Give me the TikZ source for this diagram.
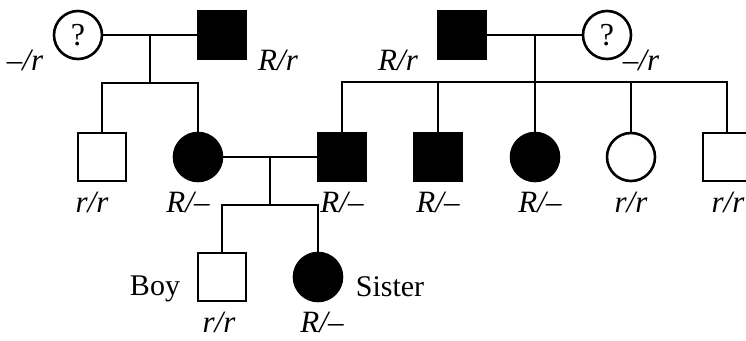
\documentclass[tikz,border=0pt]{standalone}
\usepackage{fontspec}
\setmainfont{Liberation Serif}
\begin{document}
\begin{tikzpicture}[x=1pt,y=-1pt,
  ln/.style={line width=2.6pt},
  fem/.style={circle,draw,ln,minimum size=48pt,inner sep=0pt,font=\fontsize{32}{38}\selectfont},
  mal/.style={rectangle,draw,ln,minimum size=48pt,inner sep=0pt},
  aff/.style={fill=black},
  lab/.style={font=\fontsize{31}{37}\selectfont\itshape,anchor=base,inner sep=0pt},
  txt/.style={font=\fontsize{30}{36}\selectfont,anchor=base,inner sep=0pt}]
\useasboundingbox (0,0) rectangle (746,340);
% generation I
\node[fem] (q1) at (78,35) {?};
\node[mal,aff] (p1) at (222,35) {};
\node[mal,aff] (p2) at (462,35) {};
\node[fem] (q2) at (607,35) {?};
\coordinate (m1) at (150,35);
\coordinate (j1) at (150,83);
\coordinate (m2) at (535,35);
\coordinate (j2) at (535,82);
% generation II
\node[mal] (c1) at (102,157) {};
\node[fem,aff] (c2) at (198,157) {};
\node[mal,aff] (s1) at (342,157) {};
\node[mal,aff] (s2) at (438,157) {};
\node[fem,aff] (s3) at (535,157) {};
\node[fem] (s4) at (631,157) {};
\node[mal] (s5) at (727,157) {};
\coordinate (m3) at (270,157);
\coordinate (j3) at (270,205);
% generation III
\node[mal] (boy) at (222,277) {};
\node[fem,aff] (sis) at (318,277) {};
% connectors
\draw[ln] (q1) -- (p1);
\draw[ln] (m1) -- (j1);
\draw[ln] (c1.north) |- (j1) -| (c2.north);
\draw[ln] (p2) -- (q2);
\draw[ln] (m2) -- (s3.north);
\draw[ln] (s1.north) |- (j2) -| (s5.north);
\draw[ln] (j2 -| s2.north) -- (s2.north);
\draw[ln] (j2 -| s4.north) -- (s4.north);
\draw[ln] (c2) -- (s1);
\draw[ln] (m3) -- (j3);
\draw[ln] (boy.north) |- (j3) -| (sis.north);
% labels
\node[lab] (l1) at (25,70) {–/r};
\node[lab] (l2) at (278,70) {R/r};
\node[lab] (l3) at (398,70) {R/r};
\node[lab] (l4) at (641,70) {–/r};
\node[lab] (l5) at (92,212) {r/r};
\node[lab] (l6) at (188,212) {R/–};
\node[lab] (l7) at (342,212) {R/–};
\node[lab] (l8) at (438,212) {R/–};
\node[lab] (l9) at (540,212) {R/–};
\node[lab] (l10) at (631,212) {r/r};
\node[lab] (l11) at (728,212) {r/r};
\node[lab] (l12) at (219,332) {r/r};
\node[lab] (l13) at (322,332) {R/–};
\node[txt] (t1) at (155,295) {Boy};
\node[txt] (t2) at (390,296) {Sister};
\end{tikzpicture}
\end{document}
